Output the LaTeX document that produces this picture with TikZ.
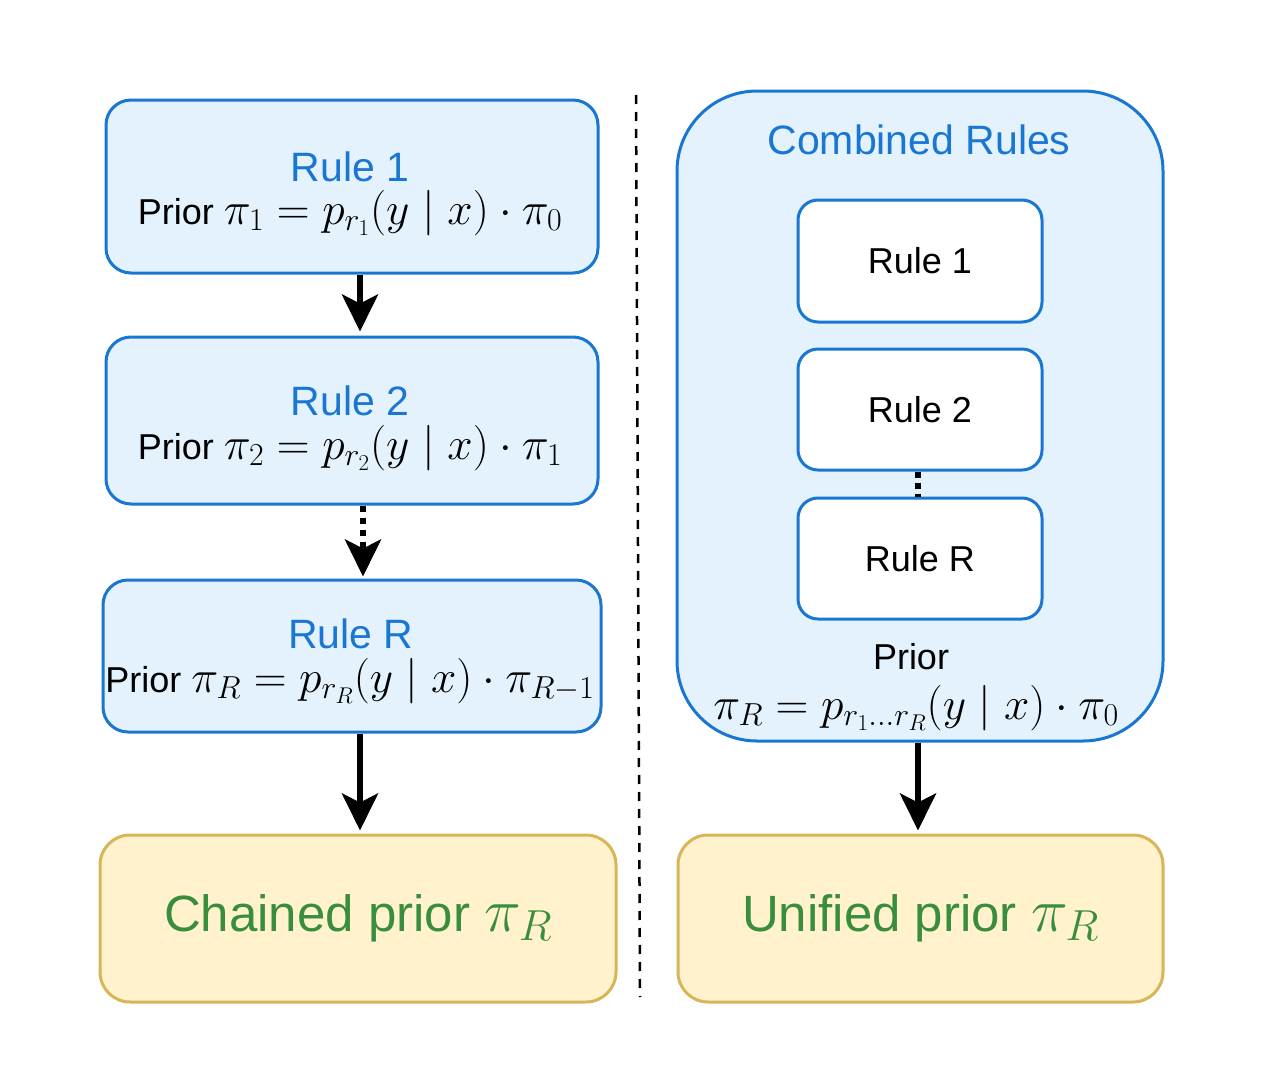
\RequirePackage{fix-cm}
\documentclass[tikz,border=0pt]{standalone}
\usepackage[no-math]{fontspec}
\setmainfont{Liberation Sans}
\usetikzlibrary{arrows.meta,calc}
\definecolor{bstroke}{HTML}{1976D2}
\definecolor{bfill}{HTML}{E3F2FD}
\definecolor{ystroke}{HTML}{D6B656}
\definecolor{yfill}{HTML}{FFF2CC}
\definecolor{gtext}{HTML}{388E3C}
\newcommand\mathsz{\fontsize{45.5}{52}\selectfont}
\begin{document}
\begin{tikzpicture}[x=1pt,y=-1pt,
  bluebox/.style={draw=bstroke, fill=bfill, line width=3pt, rounded corners=25pt, inner sep=0pt},
  innerbox/.style={draw=bstroke, fill=white, line width=3pt, rounded corners=20pt, inner sep=0pt,
     minimum width=244pt, font=\fontsize{36}{43}\selectfont},
  ybox/.style={draw=ystroke, fill=yfill, line width=3pt, rounded corners=30pt, inner sep=0pt,
     minimum height=167pt, text=gtext, font=\fontsize{51}{60}\selectfont},
  title/.style={anchor=base, text=bstroke, inner sep=0pt, font=\fontsize{41}{49}\selectfont},
  prior/.style={anchor=base, inner sep=0pt, font=\fontsize{36}{43}\selectfont},
  arr/.style={line width=6pt, -{Stealth[length=37pt, width=36pt, inset=9pt]}},
  dotarr/.style={line width=6pt, dash pattern=on 6pt off 6pt, -{Stealth[length=37pt, width=36pt, inset=9pt]}},
  dotline/.style={line width=6pt, dash pattern=on 6pt off 5pt},
  divider/.style={line width=2.5pt, dash pattern=on 9pt off 8pt}
]
\useasboundingbox (0,0) rectangle (1262,1092);

% left column
\node[bluebox, minimum width=492pt, minimum height=173pt] (r1) at (352,186.5) {};
\node[bluebox, minimum width=492pt, minimum height=167pt] (r2) at (352,420.5) {};
\node[bluebox, minimum width=498pt, minimum height=152pt] (rR) at (352,656) {};
\node[ybox, minimum width=516pt] (chained) at (358,918.5)
  {Chained prior {\fontsize{62}{70}\selectfont$\pi_R$}};

\node[title] (t1) at (350,181) {Rule 1};
\node[prior] (p1) at (350,224) {Prior {\mathsz$\pi_1 = p_{r_1}(y \mid x)\cdot \pi_0$}};
\node[title] (t2) at (350,415) {Rule 2};
\node[prior] (p2) at (350,459) {Prior {\mathsz$\pi_2 = p_{r_2}(y \mid x)\cdot \pi_1$}};
\node[title] (tR) at (351,648) {Rule R};
\node[prior] (pR) at (350,692) {Prior {\mathsz$\pi_R = p_{r_R}(y \mid x)\cdot \pi_{R-1}$}};

\coordinate (xa) at (360,0);
\coordinate (xb) at (363,0);
\draw[arr] (r1.south -| xa) -- ($(r2.north -| xa)+(0,-4)$);
\draw[dotarr] (r2.south -| xb) -- ($(rR.north -| xb)+(0,-2)$);
\draw[arr] (rR.south -| xa) -- ($(chained.north -| xa)+(0,-3)$);

% divider
\coordinate (d1) at (636,95);
\coordinate (d2) at (640,997);
\draw[divider] (d1) -- (d2);

% right column
\node[bluebox, rounded corners=80pt, minimum width=486pt, minimum height=650pt] (comb) at (920,416) {};
\node[title] (tc) at (919,154) {Combined Rules};
\node[innerbox, minimum height=122pt] (ir1) at (920,261) {Rule 1};
\node[innerbox, minimum height=121pt] (ir2) at (920,409.5) {Rule 2};
\node[innerbox, minimum height=121pt] (irR) at (920,558.5) {Rule R};
\coordinate (xc) at (918,0);
\draw[dotline] (ir2.south -| xc) -- (irR.north -| xc);
\node[prior] (pc) at (911,669) {Prior};
\node[prior] (mc) at (916,719) {\mathsz$\pi_R = p_{r_1\ldots r_R}(y \mid x)\cdot \pi_0$};
\node[ybox, minimum width=485pt] (unified) at (920.5,918.5)
  {Unified prior {\fontsize{62}{70}\selectfont$\pi_R$}};
\draw[arr] (comb.south -| xc) -- ($(unified.north -| xc)+(0,-3)$);
\end{tikzpicture}
\end{document}
